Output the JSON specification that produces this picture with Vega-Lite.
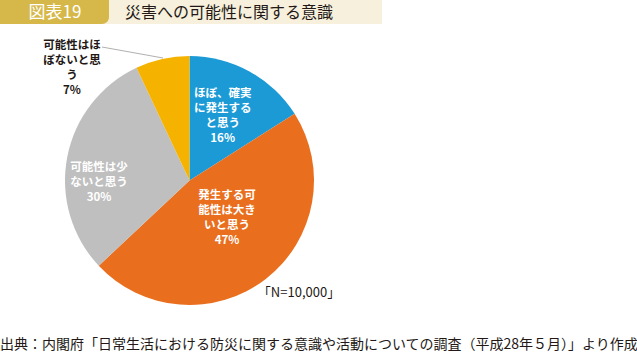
{
  "$schema": "https://vega.github.io/schema/vega-lite/v6.json",
  "width": 637,
  "height": 355,
  "autosize": {"type": "none"},
  "padding": 0,
  "background": "white",
  "config": {"view": {"stroke": null}, "font": "Noto Sans CJK JP"},
  "data": {
    "values": [
      {"cat": "ほぼ、確実に発生すると思う", "label": "ほぼ、確実\nに発生する\nと思う\n16%", "value": 16, "order": 1},
      {"cat": "発生する可能性は大きいと思う", "label": "発生する可\n能性は大き\nいと思う\n47%", "value": 47, "order": 2},
      {"cat": "可能性は少ないと思う", "label": "可能性は少\nないと思う\n30%", "value": 30, "order": 3},
      {"cat": "可能性はほぼないと思う", "label": "可能性はほ\nぼないと思\nう\n7%", "value": 7, "order": 4}
    ]
  },
  "layer": [
    {
      "data": {"values": [{}]},
      "mark": {"type": "rect", "color": "#f6f0dc"},
      "encoding": {"x": {"value": 0}, "x2": {"value": 382}, "y": {"value": 0}, "y2": {"value": 24}}
    },
    {
      "data": {"values": [{}]},
      "mark": {"type": "rect", "color": "#d6b84a", "cornerRadiusBottomRight": 7},
      "encoding": {"x": {"value": 0}, "x2": {"value": 109}, "y": {"value": 0}, "y2": {"value": 24}}
    },
    {
      "data": {"values": [{"t": "図表19"}]},
      "mark": {"type": "text", "color": "white", "fontSize": 17, "align": "center", "baseline": "middle"},
      "encoding": {"text": {"field": "t"}, "x": {"value": 55}, "y": {"value": 12.5}}
    },
    {
      "data": {"values": [{"t": "災害への可能性に関する意識"}]},
      "mark": {"type": "text", "color": "#231815", "fontSize": 16, "align": "left", "baseline": "middle"},
      "encoding": {"text": {"field": "t"}, "x": {"value": 125}, "y": {"value": 12.5}}
    },
    {
      "mark": {"type": "arc", "outerRadius": 124.5},
      "encoding": {
        "theta": {"field": "value", "type": "quantitative", "stack": true},
        "order": {"field": "order", "type": "quantitative"},
        "color": {
          "field": "cat", "type": "nominal", "legend": null,
          "scale": {
            "domain": ["ほぼ、確実に発生すると思う", "発生する可能性は大きいと思う", "可能性は少ないと思う", "可能性はほぼないと思う"],
            "range": ["#1b9ad6", "#e96f1f", "#bfbfbf", "#f5b300"]
          }
        },
        "x": {"value": 189.5},
        "y": {"value": 180.5}
      }
    },
    {
      "data": {"values": [{}]},
      "mark": {"type": "rule", "color": "#b0b0b0", "strokeWidth": 1},
      "encoding": {"x": {"value": 102}, "y": {"value": 47}, "x2": {"value": 163}, "y2": {"value": 58}}
    },
    {
      "mark": {"type": "text", "radius": 73, "dx": -2, "dy": -22.5, "fontSize": 11.5, "fontWeight": "bold", "lineHeight": 15, "lineBreak": "\n", "color": "white", "align": "center", "baseline": "middle"},
      "encoding": {
        "theta": {"field": "value", "type": "quantitative", "stack": true},
        "order": {"field": "order", "type": "quantitative"},
        "text": {"condition": {"test": "datum.order == 1", "field": "label"}, "value": ""},
        "x": {"value": 189.5}, "y": {"value": 180.5}
      }
    },
    {
      "mark": {"type": "text", "radius": 53, "dx": 5, "dy": -26.5, "fontSize": 11.5, "fontWeight": "bold", "lineHeight": 15, "lineBreak": "\n", "color": "white", "align": "center", "baseline": "middle"},
      "encoding": {
        "theta": {"field": "value", "type": "quantitative", "stack": true},
        "order": {"field": "order", "type": "quantitative"},
        "text": {"condition": {"test": "datum.order == 2", "field": "label"}, "value": ""},
        "x": {"value": 189.5}, "y": {"value": 180.5}
      }
    },
    {
      "mark": {"type": "text", "radius": 90, "dx": -2, "dy": 4, "fontSize": 11.5, "fontWeight": "bold", "lineHeight": 15, "lineBreak": "\n", "color": "white", "align": "center", "baseline": "middle"},
      "encoding": {
        "theta": {"field": "value", "type": "quantitative", "stack": true},
        "order": {"field": "order", "type": "quantitative"},
        "text": {"condition": {"test": "datum.order == 3", "field": "label"}, "value": ""},
        "x": {"value": 189.5}, "y": {"value": 180.5}
      }
    },
    {
      "mark": {"type": "text", "radius": 163, "dx": -82, "dy": 24.5, "fontSize": 11.5, "fontWeight": "bold", "lineHeight": 15, "lineBreak": "\n", "color": "#231815", "align": "center", "baseline": "middle"},
      "encoding": {
        "theta": {"field": "value", "type": "quantitative", "stack": true},
        "order": {"field": "order", "type": "quantitative"},
        "text": {"condition": {"test": "datum.order == 4", "field": "label"}, "value": ""},
        "x": {"value": 189.5}, "y": {"value": 180.5}
      }
    },
    {
      "data": {"values": [{"t": "「N=10,000」"}]},
      "mark": {"type": "text", "color": "#231815", "fontSize": 13, "align": "center", "baseline": "middle"},
      "encoding": {"text": {"field": "t"}, "x": {"value": 299}, "y": {"value": 293}}
    },
    {
      "data": {"values": [{"t": "出典：内閣府「日常生活における防災に関する意識や活動についての調査（平成28年５月）」より作成"}]},
      "mark": {"type": "text", "color": "#231815", "fontSize": 14, "align": "left", "baseline": "middle"},
      "encoding": {"text": {"field": "t"}, "x": {"value": 0}, "y": {"value": 345}}
    }
  ]
}
